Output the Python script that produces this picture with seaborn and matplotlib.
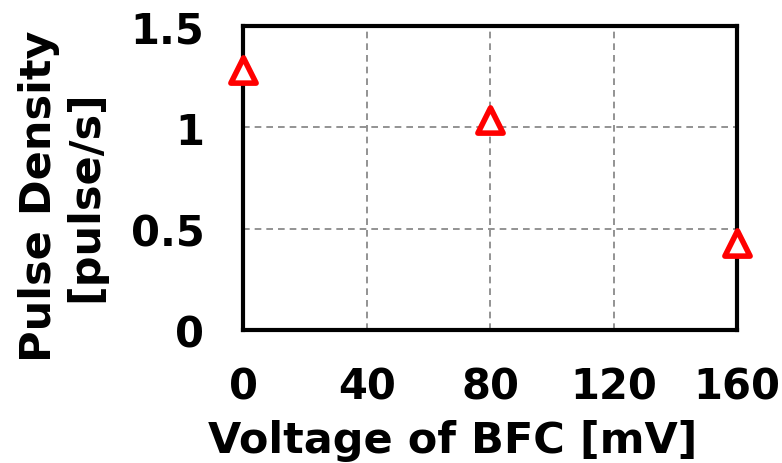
import matplotlib
matplotlib.use("Agg")
import matplotlib.pyplot as plt
import seaborn as sns
import pandas as pd

voltage = [0, 80, 160]
density = [1.28, 1.035, 0.43]
x_ticks = [0, 40, 80, 120, 160]
y_ticks = [0, 0.5, 1, 1.5]
y_tick_labels = ["0", "0.5", "1", "1.5"]

sns.set_theme(style="white")
plt.rcParams['font.family'] = ['DejaVu Sans']
plt.rcParams['font.weight'] = 'bold'
plt.rcParams['text.color'] = 'black'
plt.rcParams['axes.labelcolor'] = 'black'

df = pd.DataFrame({"v": voltage, "d": density})

fig = plt.figure(figsize=(7.82, 4.64), dpi=100)
ax = fig.add_axes([0.311, 0.287, 0.6315, 0.655])
sns.scatterplot(data=df, x="v", y="d", ax=ax, marker="^", s=330,
                facecolor="white", edgecolor="red", linewidth=4, zorder=5, clip_on=False)
ax.set_xlim(0, 160)
ax.set_ylim(0, 1.5)
ax.set_xticks(x_ticks)
ax.set_yticks(y_ticks)
ax.set_yticklabels(y_tick_labels)
ax.grid(True, color="gray", linestyle=(0, (4, 3)), linewidth=1.2)
for s in ax.spines.values():
    s.set_color("black")
    s.set_linewidth(3)
ax.tick_params(axis="both", direction="in", length=5, width=1.5, labelsize=30, colors="black")
ax.tick_params(axis="y", pad=28)
ax.tick_params(axis="x", pad=26)
for lbl in ax.get_xticklabels() + ax.get_yticklabels():
    lbl.set_fontweight("bold")
ax.set_xlabel("Voltage of BFC [mV]", fontsize=31, fontweight="bold", color="black")
ax.xaxis.set_label_coords(0.425, -0.292)
ax.set_ylabel("Pulse Density\n[pulse/s]", fontsize=31, fontweight="bold",
              linespacing=1.12, color="black")
ax.yaxis.set_label_coords(-0.277, 0.444)
fig.savefig("out.png", dpi=100)
